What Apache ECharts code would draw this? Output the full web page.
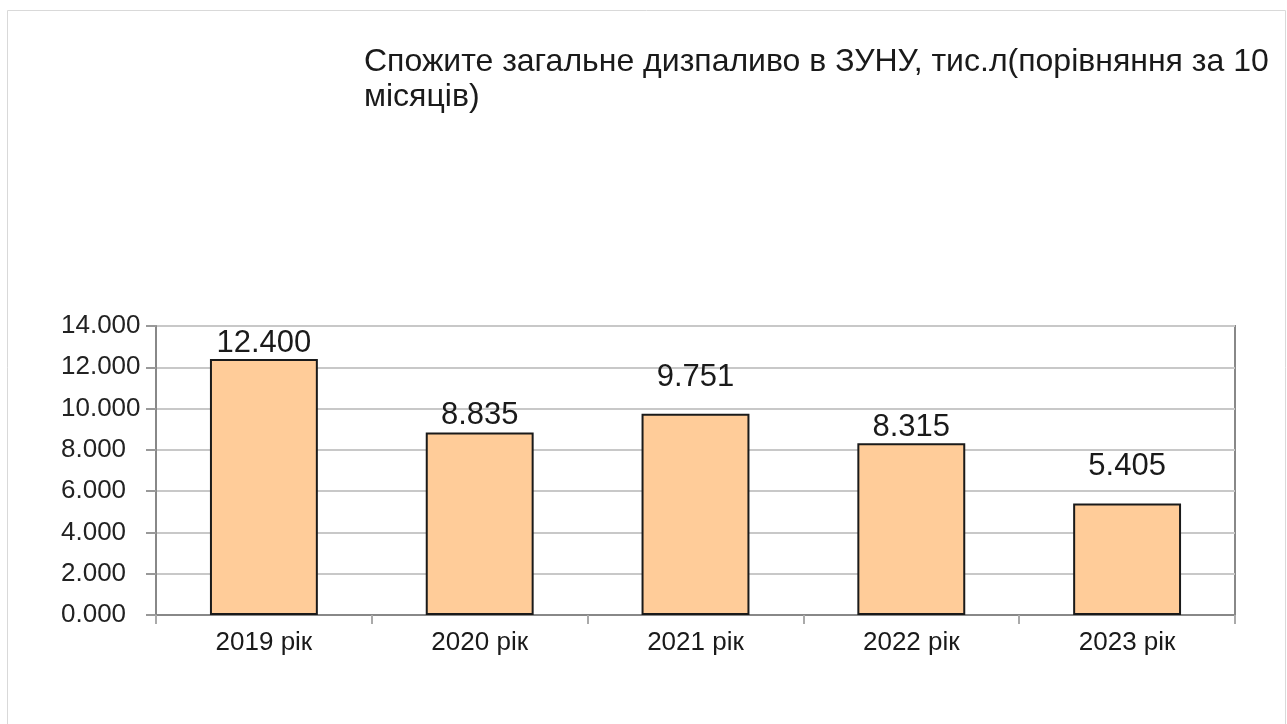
<!DOCTYPE html>
<html>
<head>
<meta charset="utf-8">
<script src="https://cdn.jsdelivr.net/npm/echarts@6/dist/echarts.min.js"></script>
<style>
  html, body { margin: 0; padding: 0; background: #fff; }
  #main { width: 1287px; height: 724px; }
</style>
</head>
<body>
<div id="main"></div>
<script>
// дані діаграми
var years = ['2019 рік', '2020 рік', '2021 рік', '2022 рік', '2023 рік'];
var fuel = [12400, 8835, 9751, 8315, 5405];
var titleText = 'Спожите загальне дизпаливо в ЗУНУ, тис.л(порівняння за 10\nмісяців)';

// відступ підписів над стовпцями (як у вихідній картинці)
var labelGap = [0, 2, 21, 0, 21];

function fmt(v) {
  var s = String(Math.round(v));
  var head = s.length > 3 ? s.slice(0, s.length - 3) : '0';
  var tail = s.length > 3 ? s.slice(-3) : ('000' + s).slice(-3);
  return head + '.' + tail;
}

var chart = echarts.init(document.getElementById('main'));
chart.setOption({
  animation: false,
  textStyle: { fontFamily: '"Liberation Sans", Arial, sans-serif' },
  graphic: [{
    type: 'rect',
    shape: { x: 7.5, y: 10.5, width: 1278, height: 730 },
    style: { fill: 'none', stroke: '#d9d9d9', lineWidth: 1 },
    silent: true
  }],
  title: {
    text: titleText,
    left: 359,
    top: 40,
    textStyle: { fontSize: 32, fontWeight: 'normal', color: '#1a1a1a', lineHeight: 35 }
  },
  grid: {
    left: 156, right: 52, top: 326, bottom: 109,
    show: true, borderColor: '#888', borderWidth: 2, backgroundColor: '#fff'
  },
  xAxis: {
    type: 'category',
    data: years,
    axisLine: { lineStyle: { color: '#888', width: 2 } },
    axisTick: { show: true, length: 9, lineStyle: { color: '#aaa', width: 2 } },
    axisLabel: { fontSize: 26, color: '#1a1a1a', margin: 15 }
  },
  yAxis: {
    type: 'value',
    min: 0, max: 14000, interval: 2000,
    axisLine: { show: true, lineStyle: { color: '#888', width: 2 } },
    axisTick: { show: true, length: 10, lineStyle: { color: '#999', width: 2 } },
    splitLine: { lineStyle: { color: '#c8c8c8', width: 2 } },
    axisLabel: { fontSize: 26, color: '#222', margin: 95, align: 'left', formatter: fmt }
  },
  series: [{
    type: 'bar',
    barWidth: '50%',
    data: fuel.map(function (v, i) {
      return { value: v, label: { distance: labelGap[i] } };
    }),
    itemStyle: { color: '#ffcc99', borderColor: '#1a1a1a', borderWidth: 2 },
    label: {
      show: true,
      position: 'top',
      fontSize: 31,
      color: '#1a1a1a',
      formatter: function (p) { return fmt(p.value); }
    }
  }]
});
</script>
</body>
</html>
